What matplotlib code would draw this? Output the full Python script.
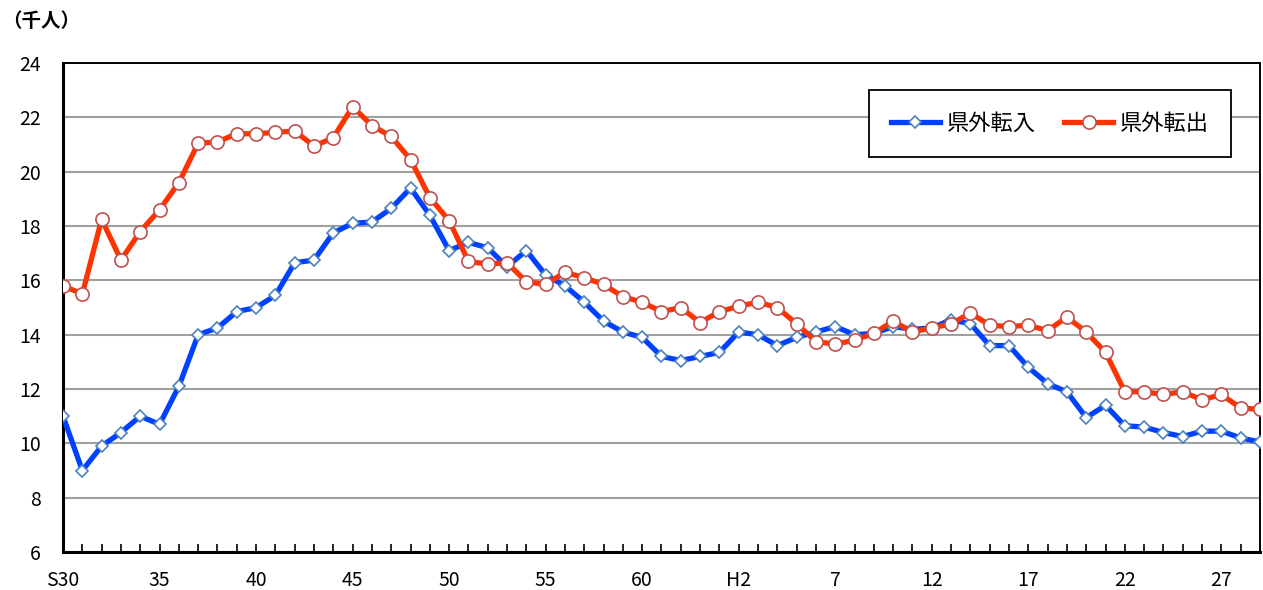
import matplotlib.pyplot as plt
from matplotlib.ticker import MultipleLocator

plt.rcParams['font.family'] = ['Noto Sans CJK JP', 'DejaVu Sans']

# S30 (1955) .. H29 (2017), one point per year
tick_labels = ["S30", "35", "40", "45", "50", "55", "60", "H2", "7", "12", "17", "22", "27"]

tennyu = [11.0, 9.0, 9.9, 10.4, 11.0, 10.7, 12.1, 14.0, 14.25, 14.85, 15.0, 15.45,
          16.65, 16.75, 17.75, 18.1, 18.15, 18.65, 19.4, 18.4, 17.1, 17.4, 17.2, 16.5,
          17.1, 16.2, 15.8, 15.2, 14.5, 14.1, 13.9, 13.2, 13.05, 13.2, 13.35, 14.1,
          14.0, 13.6, 13.9, 14.1, 14.3, 14.0, 14.05, 14.3, 14.2, 14.25, 14.55, 14.4,
          13.6, 13.6, 12.8, 12.2, 11.9, 10.95, 11.4, 10.65, 10.6, 10.4, 10.25, 10.45,
          10.45, 10.2, 10.05]
tenshutsu = [15.8, 15.5, 18.25, 16.75, 17.8, 18.6, 19.6, 21.05, 21.1, 21.4, 21.4, 21.45,
             21.5, 20.95, 21.25, 22.4, 21.7, 21.3, 20.45, 19.05, 18.2, 16.7, 16.6, 16.65,
             15.95, 15.85, 16.3, 16.1, 15.85, 15.4, 15.2, 14.85, 15.0, 14.45, 14.85, 15.05,
             15.2, 15.0, 14.4, 13.75, 13.65, 13.8, 14.05, 14.5, 14.1, 14.25, 14.4, 14.8,
             14.35, 14.3, 14.35, 14.15, 14.65, 14.1, 13.35, 11.9, 11.9, 11.8, 11.9, 11.6,
             11.8, 11.3, 11.25]

x = list(range(len(tennyu)))

fig = plt.figure(figsize=(12.63, 5.9), dpi=100)
ax = fig.add_axes([0.0499, 0.0644, 0.9477, 0.8286])

ax.plot(x, tennyu, color='#0040ff', lw=3.8, marker='D', ms=6.5, mfc='white',
        mec='#4f81bd', mew=1.2, label='県外転入', zorder=3)
ax.plot(x, tenshutsu, color='#ff3300', lw=3.8, marker='o', ms=9.5, mfc='white',
        mec='#c0504d', mew=1.2, label='県外転出', zorder=4)

ax.set_xlim(0, len(x) - 1)
ax.set_ylim(6, 24)
ax.set_yticks(range(6, 25, 2))
ax.yaxis.grid(True, color='#a0a0a0', lw=1.5)
ax.set_axisbelow(True)
ax.tick_params(axis='y', length=0, labelsize=14, pad=16)

ax.xaxis.set_minor_locator(MultipleLocator(1))
ax.set_xticks(range(0, len(x), 5))
ax.set_xticklabels(tick_labels)
ax.tick_params(axis='x', which='both', direction='in', length=6, width=1.2,
               labelsize=14, pad=13)

for side in ['left', 'bottom']:
    ax.spines[side].set_linewidth(2.2)
for side in ['top', 'right']:
    ax.spines[side].set_linewidth(1.4)

fig.text(0.002, 0.963, '（千人）', fontsize=14, fontweight='bold', va='center')

leg = ax.legend(loc='upper right', bbox_to_anchor=(0.976, 0.945), ncol=2,
                fontsize=16, frameon=True, fancybox=False, edgecolor='black',
                framealpha=1, borderpad=1.0, handlelength=2.2, handletextpad=0.3,
                columnspacing=1.3, borderaxespad=0)
leg.get_frame().set_linewidth(1.3)

fig.savefig('out.png', dpi=100)
